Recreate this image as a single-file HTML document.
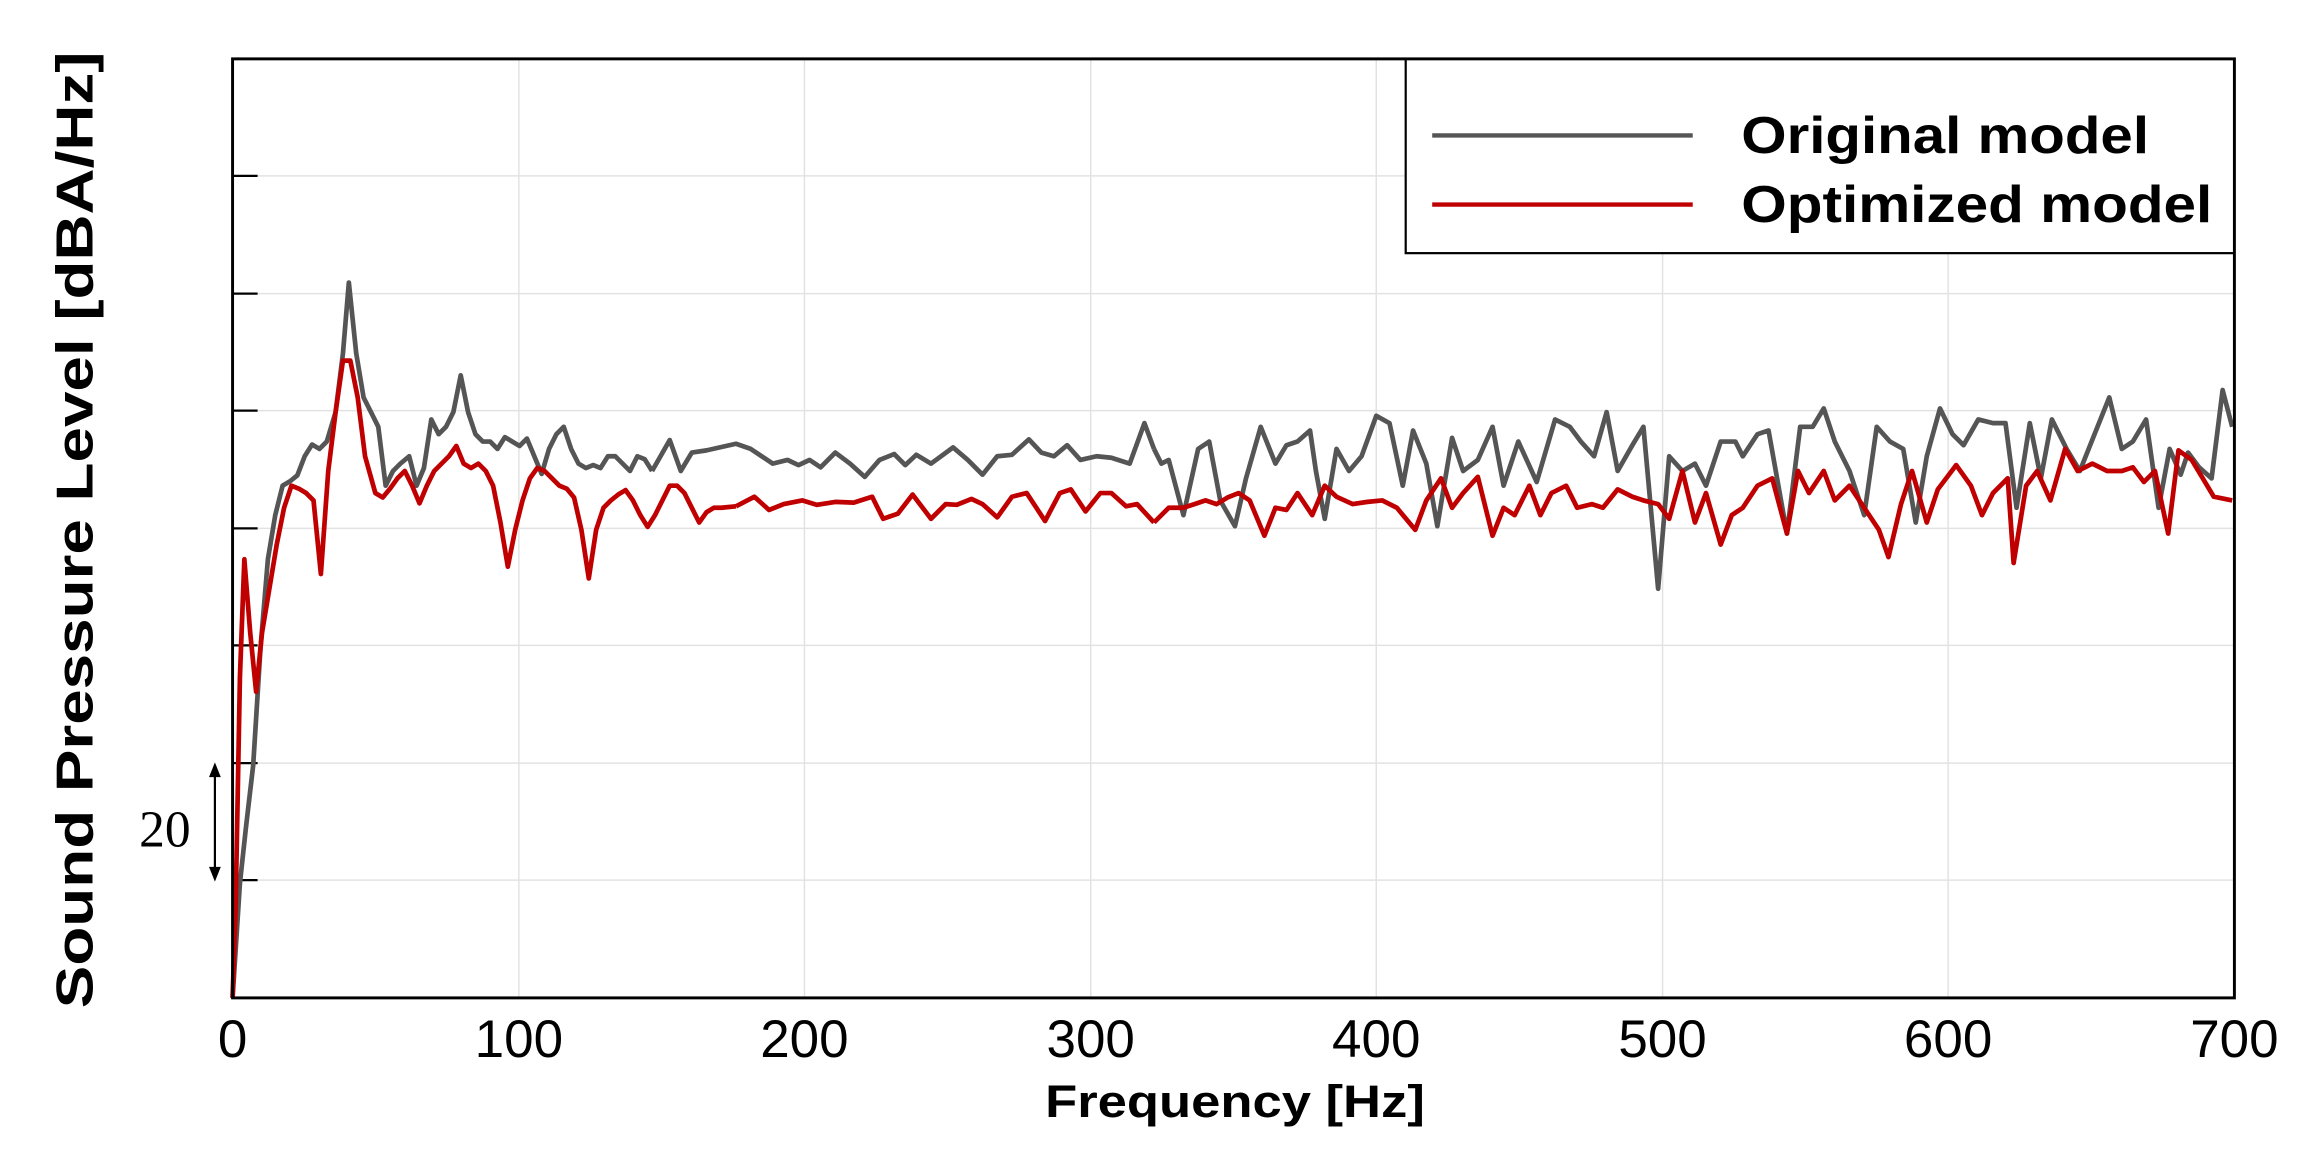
<!DOCTYPE html>
<html><head><meta charset="utf-8"><style>
html,body{margin:0;padding:0;background:#fff;}
svg{display:block;}
</style></head><body>
<svg width="2308" height="1162" viewBox="0 0 3136 1579" preserveAspectRatio="none" xmlns="http://www.w3.org/2000/svg">
<rect width="3136" height="1579" fill="#fff"/>
<g stroke="#e2e2e2" stroke-width="2">
<line x1="316" y1="239" x2="3036" y2="239"/><line x1="316" y1="399" x2="3036" y2="399"/>
<line x1="316" y1="558" x2="3036" y2="558"/><line x1="316" y1="718" x2="3036" y2="718"/>
<line x1="316" y1="877" x2="3036" y2="877"/><line x1="316" y1="1037" x2="3036" y2="1037"/>
<line x1="316" y1="1196" x2="3036" y2="1196"/>
<line x1="705" y1="80" x2="705" y2="1356"/><line x1="1093" y1="80" x2="1093" y2="1356"/>
<line x1="1482" y1="80" x2="1482" y2="1356"/><line x1="1870" y1="80" x2="1870" y2="1356"/>
<line x1="2259" y1="80" x2="2259" y2="1356"/><line x1="2647" y1="80" x2="2647" y2="1356"/>
</g>
<g stroke="#000" stroke-width="3">
<line x1="316" y1="239" x2="350" y2="239"/><line x1="316" y1="399" x2="350" y2="399"/>
<line x1="316" y1="558" x2="350" y2="558"/><line x1="316" y1="718" x2="350" y2="718"/>
<line x1="316" y1="877" x2="350" y2="877"/><line x1="316" y1="1037" x2="350" y2="1037"/>
<line x1="316" y1="1196" x2="350" y2="1196"/>
</g>
<!-- gray series -->
<g fill="none" stroke="#555" stroke-linejoin="round">
<polyline transform="scale(2)" stroke-width="3.2" points="158,678 163,600 167,563 172,520 177,440 182,380 187,350 192,330 197,327 202,323 207,310 212,302 217,305 222,300 228,280 233,240 237,192 242,240 247,270 252,280 257,290 262,330 267,320 272,315 278,310 283,330 288,318 293,285 298,295 303,290 308,280 313,255 318,280 323,295 328,300 333,300 338,305 343,297 348,300 353,303 358,298 363,310 368,322 373,305 378,295 383,290 388,305 393,315 398,318 403,316 408,318 413,310 418,310 423,315 428,320 433,310 438,312 443,320"/>
<polyline stroke-width="6.4" points="886,640 910,598 925,640 940,615 960,612 1000,603 1020,610 1050,630 1070,625 1085,632 1100,625 1115,635 1135,615 1155,630 1175,648 1195,625 1215,617 1230,632 1245,618 1265,630 1295,608 1315,625 1335,645 1355,620 1375,618 1398,597 1415,615 1432,620 1450,605 1468,625 1490,620 1510,622 1535,630 1555,575 1568,610"/>
<polyline transform="translate(1568,0)" stroke-width="6.4" points="0,610 10,630 20,625 40,700 60,610 75,600 90,680 110,715 125,650 145,580 165,630 180,605 195,600 212,585 220,640 232,705 248,610 265,640 282,620 302,565 320,575 338,660 352,585 370,630 385,715 405,595 420,640 440,625 460,580 475,660 495,600 520,655 545,570 565,580 580,600 598,620 615,560 630,640 650,605 665,580 685,800 700,620 718,640 735,630 750,660 770,600 790,600 800,620 820,590 835,585 860,725 878,580 895,580 910,555 925,600 945,640 965,700 982,580 1000,600 1018,610 1035,710 1050,620 1068,555 1085,590 1100,605 1120,570 1140,575 1157,575 1172,690 1190,575 1205,650 1220,570 1240,610 1258,640 1278,590 1298,540 1315,610 1330,600 1348,570 1365,690 1380,610 1395,645 1405,615 1420,635 1437,650 1452,530 1465,580"/>
</g>
<!-- red series -->
<g fill="none" stroke="#c00000" stroke-linejoin="round">
<polyline transform="scale(2)" stroke-width="3.2" points="158,678 160,620 163,460 166,380 170,430 174,470 178,430 183,400 188,370 193,345 198,330 203,332 208,335 213,340 218,390 223,320 228,280 233,245 238,245 243,270 248,310 255,335 260,338 265,332 270,325 275,320 280,330 285,342 290,330 295,320 300,315 305,310 310,303 315,315 320,318 325,315 330,320 335,330 340,355 345,385 350,360 355,340 360,325 365,318 370,320 375,325 380,330 385,332 390,338 395,360 400,393 405,360 410,345 415,340 420,336 425,333 430,340 435,350 440,358 445,350 450,340 455,330 460,330 465,335 470,345 475,355 480,348 485,345 490,345 500,344"/>
<polyline stroke-width="6.4" points="1000,688 1025,675 1045,693 1065,685 1090,680 1110,686 1135,682 1160,683 1185,675 1200,705 1220,698 1240,672 1265,705 1285,685 1300,686 1320,678 1335,685 1355,703 1375,675 1395,670 1420,708 1440,670 1455,665 1475,695 1495,670 1510,670 1530,688 1545,685 1568,710"/>
<polyline transform="translate(1568,0)" stroke-width="6.4" points="0,710 20,690 40,690 55,685 70,680 85,685 100,676 115,670 130,680 150,728 165,690 180,693 195,670 215,700 232,660 248,675 270,685 290,682 310,680 330,690 355,720 370,680 390,650 405,690 420,670 440,648 460,728 475,690 490,700 510,660 525,700 540,670 560,660 575,690 595,685 610,690 630,665 650,675 665,680 685,685 700,705 718,640 735,710 750,670 770,740 785,700 800,690 820,660 840,650 860,725 875,640 890,670 910,640 925,680 945,660 965,690 985,720 998,757 1015,685 1030,640 1050,710 1065,665 1090,632 1110,660 1125,700 1140,670 1160,650 1168,765 1185,660 1200,640 1218,680 1238,610 1255,640 1275,630 1295,640 1315,640 1330,635 1345,655 1360,640 1378,725 1392,612 1410,625 1425,650 1440,675 1465,680"/>
</g>
<!-- legend -->
<rect x="1910" y="80" width="1126" height="264" fill="#fff" stroke="#000" stroke-width="3"/>
<line x1="1946" y1="184" x2="2300" y2="184" stroke="#555" stroke-width="6"/>
<line x1="1946" y1="278" x2="2300" y2="278" stroke="#c00000" stroke-width="6"/>
<g font-family="Liberation Sans, sans-serif" font-weight="bold" font-size="70" fill="#000">
<text x="2366" y="208" textLength="554" lengthAdjust="spacingAndGlyphs">Original model</text>
<text x="2366" y="302" textLength="640" lengthAdjust="spacingAndGlyphs">Optimized model</text>
</g>
<!-- frame -->
<rect x="316" y="80" width="2720" height="1276" fill="none" stroke="#000" stroke-width="4"/>
<!-- tick labels -->
<g font-family="Liberation Sans, sans-serif" font-size="72" fill="#000" text-anchor="middle">
<text x="316" y="1436">0</text><text x="705" y="1436">100</text><text x="1093" y="1436">200</text>
<text x="1482" y="1436">300</text><text x="1870" y="1436">400</text><text x="2259" y="1436">500</text>
<text x="2647" y="1436">600</text><text x="3036" y="1436">700</text>
</g>
<text x="1420" y="1518" font-family="Liberation Sans, sans-serif" font-weight="bold" font-size="62" textLength="516" lengthAdjust="spacingAndGlyphs">Frequency [Hz]</text>
<text transform="translate(126,720) rotate(-90)" x="-650" y="0" font-family="Liberation Sans, sans-serif" font-weight="bold" font-size="70" textLength="1300" lengthAdjust="spacingAndGlyphs">Sound Pressure Level [dBA/Hz]</text>
<text x="224" y="1150" font-family="Liberation Serif, serif" font-size="70" text-anchor="middle">20</text>
<line x1="292" y1="1050" x2="292" y2="1186" stroke="#000" stroke-width="3"/>
<polygon points="292,1036 284,1056 300,1056" fill="#000"/>
<polygon points="292,1198 284,1178 300,1178" fill="#000"/>
</svg>
</body></html>
